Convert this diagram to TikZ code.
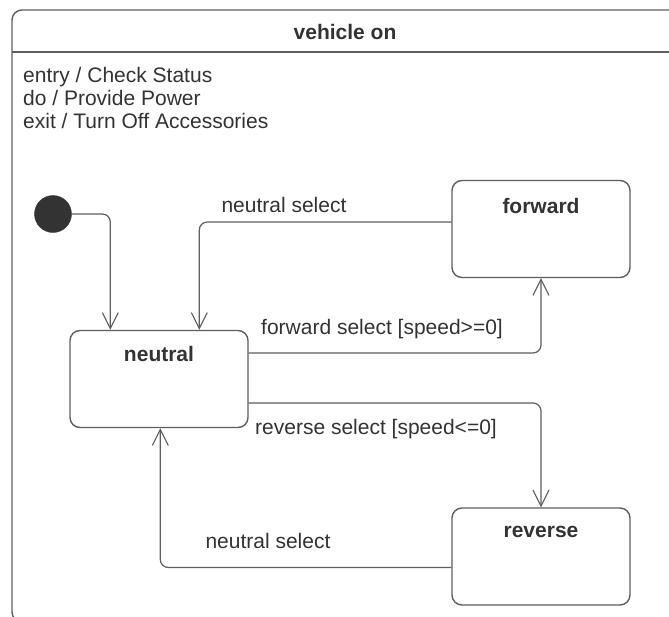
\documentclass[tikz,border=0pt]{standalone}
\usepackage{fontspec}
\setmainfont{Liberation Sans}
\usetikzlibrary{arrows.meta,calc}
\definecolor{linegray}{HTML}{5E5E5E}
\definecolor{inkgray}{HTML}{333333}
\tikzset{
  x=1pt, y=-1pt,
  every node/.style={font=\fontsize{21}{23}\selectfont, text=inkgray, inner sep=0pt},
  state/.style={draw=linegray, line width=1.4pt, rounded corners=10pt,
    minimum width=178pt, minimum height=97pt, fill=white},
  statename/.style={font=\fontsize{21}{23}\selectfont\bfseries},
  trans/.style={draw=linegray, line width=1.2pt, rounded corners=8pt,
    -{Straight Barb[length=16pt,width=16pt,line width=1.1pt]}},
  translabel/.style={anchor=center},
}
\begin{document}
\begin{tikzpicture}
\useasboundingbox (0,0) rectangle (669,616);
\begin{scope}
  \clip (0,0) rectangle (669,616);
  % composite state frame, running past the right and bottom edges
  \draw[draw=linegray, line width=1.4pt, rounded corners=10pt]
    (700,622) -- (12,622) -- (12,10) -- (700,10);
  \draw[draw=linegray, line width=1.4pt] (12,52) -- (700,52);
\end{scope}
\node[statename] (title) at (345,32) {vehicle on};
\node[anchor=base west] (entry) at (23,82) {entry / Check Status};
\node[anchor=base west] (doact) at (23,105) {do / Provide Power};
\node[anchor=base west] (exitact) at (23,128) {exit / Turn Off Accessories};

% states
\node[state] (fwd) at (541,229) {};
\node[state] (neu) at (159,379) {};
\node[state] (rev) at (541,556.5) {};
\node[statename] (fwdname) at ([yshift=-26pt]fwd.north) {forward};
\node[statename] (neuname) at ([yshift=-24pt]neu.north) {neutral};
\node[statename] (revname) at ([yshift=-25pt]rev.north) {reverse};

% initial pseudostate
\node[circle, fill=inkgray, draw=inkgray, minimum size=37pt] (init) at (53,214) {};

% transitions
\draw[trans] (init.east) -| ([xshift=41pt]neu.north west);
\draw[trans] ([yshift=7pt]fwd.west) -| ([xshift=130pt]neu.north west);
\draw[trans] ([yshift=26pt]neu.east) -| (fwd.south);
\draw[trans] ([yshift=-24pt]neu.east) -| (rev.north);
\draw[trans] ([yshift=-11pt]rev.west) -| ([xshift=91pt]neu.south west);

% transition labels
\node[translabel] (lblns1) at (284,205) {neutral select};
\node[translabel] (lblfs) at (382,329) {forward select [speed>=0]};
\node[translabel] (lblrs) at (376,429) {reverse select [speed<=0]};
\node[translabel] (lblns2) at (268,541) {neutral select};
\end{tikzpicture}
\end{document}
